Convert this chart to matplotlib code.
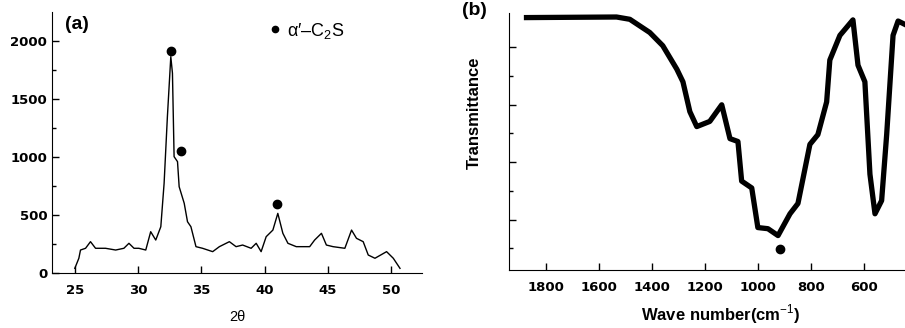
import matplotlib.pyplot as plt

plt.rcParams['font.family'] = ['Liberation Sans', 'DejaVu Sans']
plt.rcParams['mathtext.fontset'] = 'custom'
plt.rcParams['mathtext.rm'] = 'Liberation Sans'
plt.rcParams['mathtext.bf'] = 'Liberation Sans:bold'

# (a) XRD pattern
two_theta = [25.0, 25.32, 25.45, 25.85, 26.24, 26.64, 27.43, 28.23, 28.88, 29.28, 29.68,
             30.06, 30.61, 31.0, 31.4, 31.8, 32.06, 32.32, 32.59, 32.72, 32.85, 33.12,
             33.25, 33.65, 33.91, 34.18, 34.58, 35.1, 35.9, 36.43, 37.22, 37.75, 38.27,
             38.94, 39.34, 39.73, 40.13, 40.66, 41.05, 41.45, 41.85, 42.51, 43.57, 43.96,
             44.5, 44.89, 45.42, 46.35, 46.88, 47.27, 47.8, 48.2, 48.73, 49.65, 50.18, 50.71]
intensity = [40, 127, 198, 213, 270, 213, 213, 198, 213, 256, 213,
             213, 198, 356, 284, 399, 773, 1347, 1865, 1722, 1003, 960,
             744, 601, 442, 399, 227, 213, 184, 227, 270, 227, 241,
             213, 256, 184, 313, 370, 514, 342, 256, 227, 227, 284,
             342, 241, 227, 213, 370, 299, 270, 155, 127, 184, 127, 40]
peak_x = [32.59, 33.38, 40.97]
peak_y = [1916, 1052, 592]

# (b) FTIR spectrum
wavenumber = [1872, 1533, 1483, 1408, 1359, 1306, 1283, 1257, 1231, 1182, 1137, 1106,
              1076, 1062, 1024, 1001, 963, 925, 880, 850, 805, 775, 742, 730, 692, 643,
              624, 598, 579, 560, 535, 516, 492, 473, 447]
transmittance = [4.52, 4.53, 4.49, 4.26, 4.03, 3.62, 3.40, 2.88, 2.62, 2.71, 3.00, 2.41,
                 2.36, 1.67, 1.55, 0.86, 0.84, 0.72, 1.10, 1.28, 2.31, 2.48, 3.05, 3.78,
                 4.21, 4.48, 3.69, 3.40, 1.79, 1.10, 1.33, 2.48, 4.21, 4.46, 4.40]
band_x = [918]
band_y = [0.48]

fig = plt.figure(figsize=(9.05, 3.28), dpi=100)
ax1 = fig.add_axes([0.0575, 0.1677, 0.4088, 0.7957])
ax2 = fig.add_axes([0.5624, 0.1768, 0.4376, 0.7836])

# ---- panel a
ax1.plot(two_theta, intensity, color='black', lw=1.0)
ax1.plot(peak_x, peak_y, 'o', color='black', ms=6)
ax1.plot([], [], 'o', color='black', ms=4.5, label='α′–C$_2$S')
ax1.legend(loc='upper left', bbox_to_anchor=(0.555, 1.015), frameon=False,
           handlelength=0.5, handletextpad=0.45, borderaxespad=0.3,
           prop={'size': 13})
ax1.set_xlim(23.2, 52.45)
ax1.set_ylim(0, 2250)
ax1.set_xticks([25, 30, 35, 40, 45, 50])
ax1.set_yticks([0, 500, 1000, 1500, 2000])
ax1.set_yticks(range(250, 2250, 500), minor=True)
ax1.set_xlabel('2θ', fontsize=10.5, labelpad=9)
ax1.text(0.035, 0.985, '(a)', transform=ax1.transAxes, fontsize=14,
         fontweight='bold', va='top')

# ---- panel b
ax2.plot(wavenumber, transmittance, color='black', lw=3.8, solid_joinstyle='round')
ax2.plot(band_x, band_y, 'o', color='black', ms=6)
ax2.set_xlim(1938, 447)
ax2.set_ylim(0.12, 4.6)
ax2.set_xticks([1800, 1600, 1400, 1200, 1000, 800, 600])
ax2.set_yticks([1, 2, 3, 4])
ax2.set_yticks([0.5, 1.5, 2.5, 3.5], minor=True)
ax2.set_yticklabels([])
ax2.set_xlabel('Wave number(cm$^{-1}$)', fontsize=12, fontweight='bold')
ax2.xaxis.set_label_coords(0.535, -0.125)
ax2.set_ylabel('Transmittance', fontsize=12, fontweight='bold')
ax2.yaxis.set_label_coords(-0.068, 0.61)
fig.text(0.51, 0.995, '(b)', fontsize=14, fontweight='bold', va='top')

for ax in (ax1, ax2):
    ax.spines['top'].set_visible(False)
    ax.spines['right'].set_visible(False)
    ax.tick_params(direction='in', length=5, width=1)
    ax.tick_params(which='minor', direction='in', length=3, width=1)
    for lab in ax.get_xticklabels() + ax.get_yticklabels():
        lab.set_fontfamily('DejaVu Sans')
        lab.set_fontweight('bold')
        lab.set_fontsize(9.5)
ax1.tick_params(axis='x', pad=8)
ax2.tick_params(axis='x', pad=8)

fig.savefig('out.png', dpi=100)
